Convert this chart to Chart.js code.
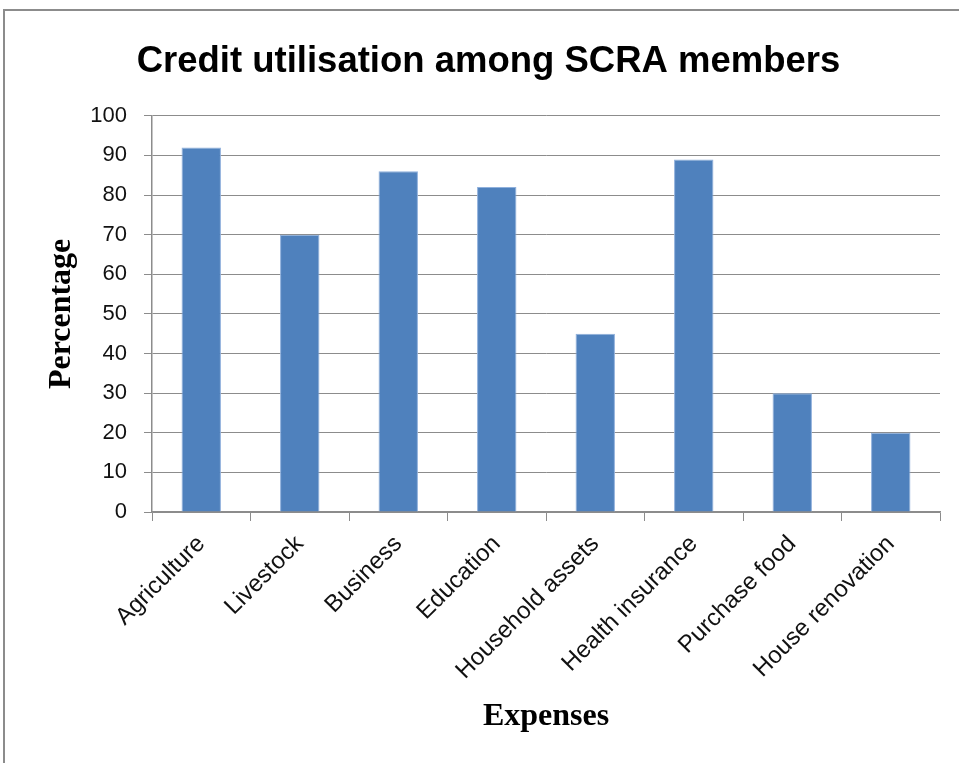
<!DOCTYPE html>
<html>
<head>
<meta charset="utf-8">
<script src="https://cdn.jsdelivr.net/npm/chart.js@4"></script>
<style>
  html, body { margin: 0; padding: 0; background: #fff; overflow: hidden; }
  #frame { position: absolute; left: 3px; top: 9px; width: 2000px; height: 2000px; border: 2px solid #8c8c8c; }
  #wrap { position: absolute; left: 0; top: 0; width: 959px; height: 763px; }
</style>
</head>
<body>
<div id="frame"></div>
<div id="wrap"><canvas id="chart" width="959" height="763"></canvas></div>
<script>
const categories = ['Agriculture', 'Livestock', 'Business', 'Education', 'Household assets', 'Health insurance', 'Purchase food', 'House renovation'];
const percentages = [92, 70, 86, 82, 45, 89, 30, 20];
const yTicks = [0, 10, 20, 30, 40, 50, 60, 70, 80, 90, 100];

const gridGray = '#8c8c8c';

let myChart = new Chart(document.getElementById('chart'), {
    type: 'bar',
    data: {
        labels: categories,
        datasets: [{
            label: 'Percentage',
            backgroundColor: '#4f81bd',
            borderColor: '#8fb0dc',
            borderWidth: 1,
            barPercentage: 0.8,
            categoryPercentage: 0.5,
            data: percentages,
        }]
    },
    options: {
        responsive: false,
        animation: false,
        devicePixelRatio: 1,
        layout: { padding: { left: 18, right: 0, top: 0, bottom: 0 } },
        plugins: {
            legend: { display: false },
            tooltip: { enabled: false },
            title: {
                display: true,
                text: 'Credit utilisation among SCRA members',
                color: '#000',
                font: { family: 'Liberation Sans', size: 36.5, weight: 'bold', lineHeight: 1.2 },
                padding: { top: 40, bottom: 32 }
            }
        },
        scales: {
            x: {
                grid: { display: true, offset: true, drawOnChartArea: false, drawTicks: true, tickLength: 9, color: gridGray, lineWidth: 1 },
                border: { color: gridGray, width: 1.5 },
                ticks: {
                    minRotation: 45, maxRotation: 45, padding: 9, color: '#111',
                    font: { family: 'Liberation Sans', size: 24 }
                },
                title: {
                    display: true, text: 'Expenses', color: '#000',
                    font: { family: 'Liberation Serif', size: 32, weight: 'bold', lineHeight: 1.2 },
                    padding: { top: 0, bottom: 27 }
                },
                afterFit: function (scale) { scale.height = 251; }
            },
            y: {
                min: 0, max: 100,
                afterBuildTicks: function (scale) { scale.ticks = yTicks.map(v => ({ value: v })); },
                grid: { color: gridGray, lineWidth: 1, drawTicks: true, tickLength: 8 },
                border: { color: gridGray, width: 1.5 },
                ticks: {
                    padding: 17, color: '#111',
                    font: { family: 'Liberation Sans', size: 22 }
                },
                title: {
                    display: true, text: 'Percentage', color: '#000',
                    font: { family: 'Liberation Serif', size: 32, weight: 'bold', lineHeight: 1.2 },
                    padding: { top: 25, bottom: 0 }
                },
                afterFit: function (scale) { scale.width = 134; }
            },
            // empty right-hand spacer so the plot ends where the reference's does
            yRight: {
                type: 'linear',
                position: 'right',
                grid: { display: false, drawTicks: false },
                border: { display: false },
                ticks: { display: false },
                afterFit: function (scale) { scale.width = 19; }
            }
        }
    }
});
</script>
</body>
</html>
